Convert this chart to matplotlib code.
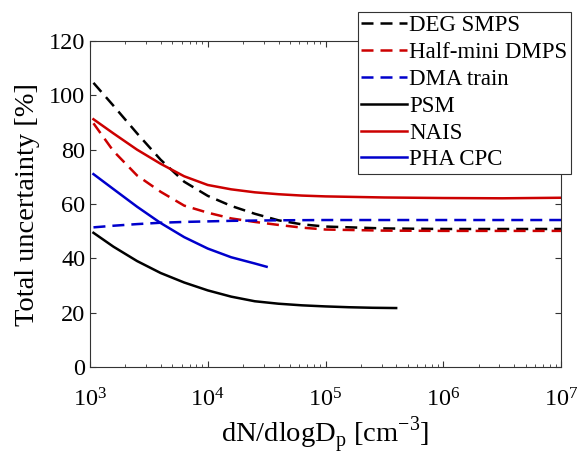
import numpy as np
import matplotlib
matplotlib.use("Agg")
import matplotlib.pyplot as plt

plt.rcParams['font.family'] = ['Liberation Serif', 'DejaVu Serif']
plt.rcParams['mathtext.fontset'] = 'custom'
plt.rcParams['mathtext.rm'] = 'Liberation Serif'

# particle concentration (cm^-3) and total uncertainty (%)
deg_x = [1.07e3, 1.58e3, 2.51e3, 3.98e3, 6.31e3, 1e4, 1.58e4, 2.51e4, 3.98e4, 6.31e4,
         1e5, 3.16e5, 1e6, 3.16e6, 1e7]
deg_y = [104.6, 96.2, 86.0, 76.3, 68.2, 63.0, 59.3, 56.4, 54.0, 52.5,
         51.7, 51.0, 50.8, 50.8, 50.8]

hm_x = [1.07e3, 1.58e3, 2.51e3, 3.98e3, 6.31e3, 1e4, 1.58e4, 2.51e4, 3.98e4, 6.31e4,
        1e5, 3.16e5, 1e6, 3.16e6, 1e7]
hm_y = [89.7, 79.5, 70.5, 64.5, 59.4, 56.8, 54.7, 53.4, 52.3, 51.3,
        50.6, 50.2, 50.1, 50.1, 50.1]

dma_x = [1.07e3, 1.58e3, 2.51e3, 3.98e3, 6.31e3, 1e4, 1.58e4, 2.51e4, 3.98e4, 1e5,
         1e6, 1e7]
dma_y = [51.4, 52.0, 52.6, 53.1, 53.4, 53.6, 53.8, 53.9, 54.0, 54.1,
         54.1, 54.1]

psm_x = [1.07e3, 1.58e3, 2.51e3, 3.98e3, 6.31e3, 1e4, 1.58e4, 2.51e4, 3.98e4, 6.31e4,
         1e5, 1.58e5, 2.51e5, 3.98e5]
psm_y = [49.4, 44.3, 39.0, 34.6, 31.1, 28.2, 25.9, 24.2, 23.3, 22.7,
         22.3, 22.0, 21.8, 21.7]

nais_x = [1.07e3, 1.58e3, 2.51e3, 3.98e3, 6.31e3, 1e4, 1.58e4, 2.51e4, 3.98e4, 6.31e4,
          1e5, 3.16e5, 1e6, 3.16e6, 1e7]
nais_y = [91.2, 86.0, 80.0, 74.8, 70.2, 67.0, 65.4, 64.3, 63.6, 63.1,
          62.8, 62.4, 62.2, 62.1, 62.3]

pha_x = [1.07e3, 1.58e3, 2.51e3, 3.98e3, 6.31e3, 1e4, 1.58e4, 2.51e4, 3.16e4]
pha_y = [71.0, 65.5, 59.0, 53.0, 47.8, 43.6, 40.4, 38.1, 36.9]

red = '#cc0000'
blue = '#0000cc'

fig = plt.figure(figsize=(5.81, 4.66), dpi=100)
ax = fig.add_axes([90/581, 1-367/466, (561-90)/581, (367-41)/466])

lw = 1.8
dash = (0, (4.8, 2.8))
ax.plot(deg_x, deg_y, color='black', ls=dash, lw=lw, label='DEG SMPS')
ax.plot(hm_x, hm_y, color=red, ls=dash, lw=lw, label='Half-mini DMPS')
ax.plot(dma_x, dma_y, color=blue, ls=dash, lw=lw, label='DMA train')
ax.plot(psm_x, psm_y, color='black', lw=lw, label='PSM')
ax.plot(nais_x, nais_y, color=red, lw=lw, label='NAIS')
ax.plot(pha_x, pha_y, color=blue, lw=lw, label='PHA CPC')

ax.set_xscale('log')
ax.set_xlim(1e3, 1e7)
ax.set_ylim(0, 120)
ax.set_yticks(range(0, 121, 20))
ax.tick_params(which='both', direction='in', top=True, right=True, labelsize=17.5,
               color='#333333')
ax.tick_params(which='major', length=4)
ax.tick_params(which='minor', length=2.5)
ax.tick_params(axis='x', pad=15)
for s in ax.spines.values():
    s.set_color('#333333')
    s.set_linewidth(0.8)

ax.set_ylabel('Total uncertainty [%]', fontsize=20.5, labelpad=6)
ax.set_xlabel(r'dN/dlogD$_\mathregular{p}$ [cm$^\mathregular{-3}$]', fontsize=20.5,
              labelpad=3)

leg = fig.legend(loc='upper right', bbox_to_anchor=(571/581, 1-12/466), fontsize=16.5,
                 frameon=True, fancybox=False, edgecolor='#333333', framealpha=1,
                 handlelength=2.0, handletextpad=0.1, labelspacing=0.25,
                 borderpad=0.15, borderaxespad=0)
leg.get_frame().set_linewidth(0.8)

fig.savefig('out.png', dpi=100)
